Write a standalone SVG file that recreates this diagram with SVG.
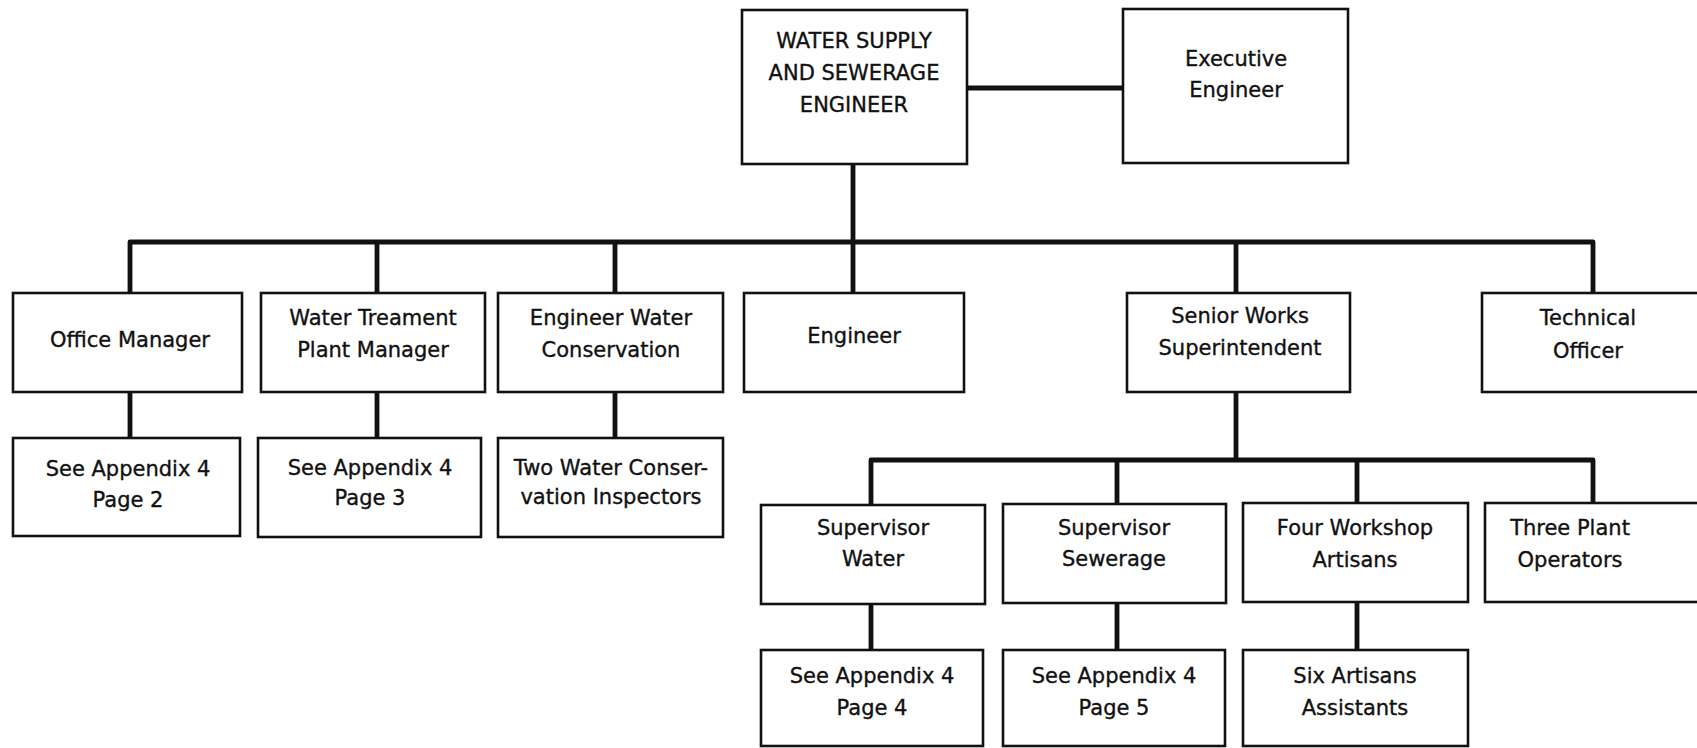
<svg xmlns="http://www.w3.org/2000/svg" width="1697" height="748" viewBox="0 0 1697 748">
<style>
.box{fill:#fff;stroke:#111;stroke-width:2.6}
.t{font-family:"DejaVu Sans","Liberation Sans",sans-serif;font-size:21px;fill:#111;stroke:#111;stroke-width:0.35;text-anchor:middle}
.c{fill:none;stroke:#111;stroke-width:4.8;stroke-linejoin:round;stroke-linecap:butt}
</style>
<rect width="1697" height="748" fill="#fff"/>
<g id="connectors">
<path class="c" d="M967 88H1123"/>
<path class="c" d="M853 164V293"/>
<path class="c" d="M130 293V242H1593V293"/>
<path class="c" d="M377 242V293"/>
<path class="c" d="M615 242V293"/>
<path class="c" d="M1236 242V293"/>
<path class="c" d="M130 392V438"/>
<path class="c" d="M377 392V438"/>
<path class="c" d="M615 392V438"/>
<path class="c" d="M1236 392V460"/>
<path class="c" d="M871 505V460H1593V505"/>
<path class="c" d="M1117 460V504"/>
<path class="c" d="M1357 460V504"/>
<path class="c" d="M871 604V650"/>
<path class="c" d="M1117 603V650"/>
<path class="c" d="M1357 602V650"/>
</g>
<g id="n_wsse"><rect class="box" x="742" y="10" width="225" height="154"/>
<text class="t" x="854" y="48">WATER SUPPLY</text><text class="t" x="854" y="80">AND SEWERAGE</text><text class="t" x="854" y="112">ENGINEER</text></g>
<g id="n_exec"><rect class="box" x="1123" y="9" width="225" height="154"/>
<text class="t" x="1236" y="66">Executive</text><text class="t" x="1236" y="97">Engineer</text></g>
<g id="n_office"><rect class="box" x="13" y="293" width="229" height="99"/>
<text class="t" x="130" y="347">Office Manager</text></g>
<g id="n_wtpm"><rect class="box" x="261" y="293" width="224" height="99"/>
<text class="t" x="373" y="325">Water Treament</text><text class="t" x="373" y="357">Plant Manager</text></g>
<g id="n_ewc"><rect class="box" x="498" y="293" width="225" height="99"/>
<text class="t" x="611" y="325">Engineer Water</text><text class="t" x="611" y="357">Conservation</text></g>
<g id="n_eng"><rect class="box" x="744" y="293" width="220" height="99"/>
<text class="t" x="854" y="343">Engineer</text></g>
<g id="n_sws"><rect class="box" x="1127" y="293" width="223" height="99"/>
<text class="t" x="1240" y="323">Senior Works</text><text class="t" x="1240" y="355">Superintendent</text></g>
<g id="n_tech"><rect class="box" x="1482" y="293" width="230" height="99"/>
<text class="t" x="1588" y="325">Technical</text><text class="t" x="1588" y="358">Officer</text></g>
<g id="n_ap2"><rect class="box" x="13" y="438" width="227" height="98"/>
<text class="t" x="128" y="476">See Appendix 4</text><text class="t" x="128" y="507">Page 2</text></g>
<g id="n_ap3"><rect class="box" x="258" y="438" width="223" height="99"/>
<text class="t" x="370" y="475">See Appendix 4</text><text class="t" x="370" y="505">Page 3</text></g>
<g id="n_twci"><rect class="box" x="498" y="438" width="225" height="99"/>
<text class="t" x="611" y="475">Two Water Conser-</text><text class="t" x="611" y="504">vation Inspectors</text></g>
<g id="n_supw"><rect class="box" x="761" y="505" width="224" height="99"/>
<text class="t" x="873" y="535">Supervisor</text><text class="t" x="873" y="566">Water</text></g>
<g id="n_sups"><rect class="box" x="1003" y="504" width="223" height="99"/>
<text class="t" x="1114" y="535">Supervisor</text><text class="t" x="1114" y="566">Sewerage</text></g>
<g id="n_fwa"><rect class="box" x="1243" y="503" width="225" height="99"/>
<text class="t" x="1355" y="535">Four Workshop</text><text class="t" x="1355" y="567">Artisans</text></g>
<g id="n_tpo"><rect class="box" x="1485" y="503" width="230" height="99"/>
<text class="t" x="1570" y="535">Three Plant</text><text class="t" x="1570" y="567">Operators</text></g>
<g id="n_ap4"><rect class="box" x="761" y="650" width="222" height="96"/>
<text class="t" x="872" y="683">See Appendix 4</text><text class="t" x="872" y="715">Page 4</text></g>
<g id="n_ap5"><rect class="box" x="1003" y="650" width="222" height="96"/>
<text class="t" x="1114" y="683">See Appendix 4</text><text class="t" x="1114" y="715">Page 5</text></g>
<g id="n_six"><rect class="box" x="1243" y="650" width="225" height="96"/>
<text class="t" x="1355" y="683">Six Artisans</text><text class="t" x="1355" y="715">Assistants</text></g>
</svg>
